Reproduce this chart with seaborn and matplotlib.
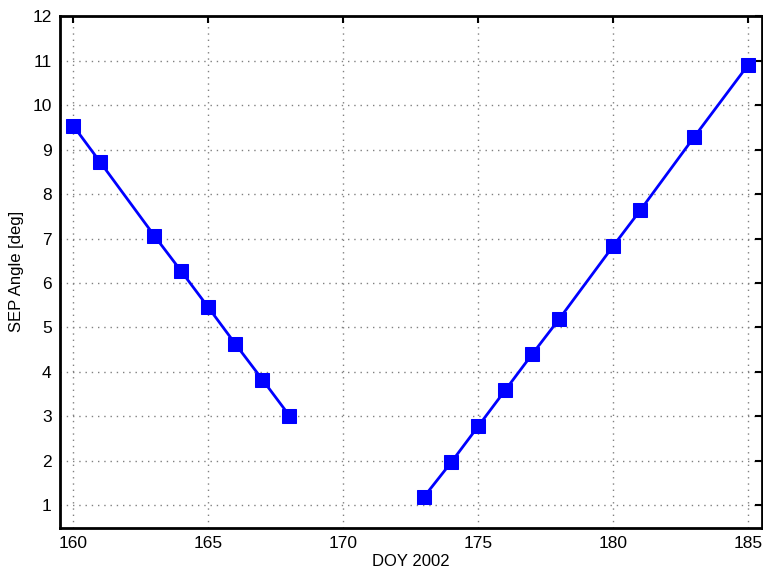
import matplotlib
matplotlib.use("Agg")
import matplotlib.pyplot as plt
import seaborn as sns
import pandas as pd
import numpy as np

doy_a = [160, 161, 163, 164, 165, 166, 167, 168]
sep_a = [9.53, 8.71, 7.06, 6.26, 5.45, 4.63, 3.83, 3.02]
doy_b = [173, 174, 175, 176, 177, 178, 180, 181, 183, 185]
sep_b = [1.20, 1.97, 2.78, 3.59, 4.40, 5.19, 6.83, 7.63, 9.28, 10.90]

xticks = [160, 165, 170, 175, 180, 185]
yticks = list(range(1, 13))

sns.set_theme(style="white")
plt.rcParams['font.family'] = ['Liberation Sans', 'DejaVu Sans']

fig = plt.figure(figsize=(7.63, 5.75), dpi=100)
ax = fig.add_axes([0.0786, 0.0823, 0.9195, 0.8897])

df_a = pd.DataFrame({"doy": doy_a, "sep": sep_a})
df_b = pd.DataFrame({"doy": doy_b, "sep": sep_b})
for df in (df_a, df_b):
    sns.lineplot(data=df, x="doy", y="sep", ax=ax, color="#0000ff", linewidth=2,
                 marker="s", markersize=10, markeredgecolor="#0000ff", sort=False)

ax.set_xlim(159.5, 185.5)
ax.set_ylim(0.5, 12)
ax.set_xticks(xticks)
ax.set_yticks(yticks)
ax.grid(True, linestyle=(0, (1, 3.5)), color="#808080", linewidth=1.0)
ax.tick_params(direction="in", length=5, width=1.5, top=True, right=True,
               labelsize=12.5, colors="black", labelcolor="black", pad=6)
for s in ax.spines.values():
    s.set_visible(True)
    s.set_color("black")
    s.set_linewidth(2)
ax.set_xlabel("DOY 2002", fontsize=12, labelpad=2, color="black")
ax.set_ylabel("SEP Angle [deg]", fontsize=12, labelpad=6, color="black")

fig.savefig("out.png", dpi=100)
